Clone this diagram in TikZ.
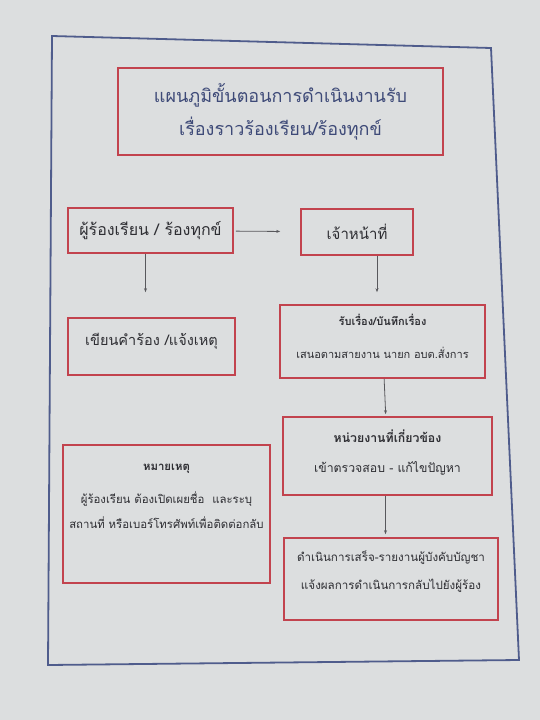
\documentclass[tikz,border=0pt]{standalone}
\usepackage{fontspec}
\newfontfamily\thaifont[Script=Thai]{Loma}
\usetikzlibrary{arrows.meta,positioning}
\definecolor{paper}{HTML}{DCDEDF}
\definecolor{frameblue}{HTML}{4F5C8C}
\definecolor{boxred}{HTML}{C2434E}
\definecolor{titleink}{HTML}{3E4A78}
\definecolor{ink}{HTML}{2E2E33}
\tikzset{
    stepbox/.style={draw=boxred,line width=1.6pt,text=ink,align=center,inner sep=2pt,font=\thaifont\fontsize{12}{24}\selectfont},
    titlebox/.style={stepbox,text=titleink,font=\thaifont\fontsize{18}{33}\selectfont},
    notebox/.style={stepbox,font=\thaifont\fontsize{11.4}{29}\selectfont},
    flow/.style={draw=ink!80,line width=0.8pt,-{Stealth[length=4pt,width=3pt]}},
}

\begin{document}
\begin{tikzpicture}[x=1pt,y=-1pt]
    \fill[paper] (0,0) rectangle (540,720);
    \useasboundingbox (0,0) rectangle (540,720);
    % photographed sheet border
    \coordinate (tl) at (52,36);
    \coordinate (tr) at (491,48);
    \coordinate (br) at (519,660);
    \coordinate (bl) at (48,665);
    \draw[frameblue,line width=1.8pt] (tl) -- (tr) -- (br) -- (bl) -- cycle;

    \node[titlebox,minimum width=325,minimum height=87] (title) at (280.5,111.5)
        {แผนภูมิขั้นตอนการดำเนินงานรับ\\เรื่องราวร้องเรียน/ร้องทุกข์};
    \node[stepbox,minimum width=165,minimum height=45,font=\thaifont\fontsize{16}{24}\selectfont] (plaintiff) at (150.5,230.5)
        {ผู้ร้องเรียน / ร้องทุกข์};
    \node[stepbox,minimum width=112,minimum height=46,font=\thaifont\fontsize{15}{24}\selectfont] (officer) at (357,232)
        {เจ้าหน้าที่};
    \node[stepbox,minimum width=167,minimum height=57,text depth=14pt,font=\thaifont\fontsize{14.5}{24}\selectfont] (petition) at (151.5,346.5)
        {เขียนคำร้อง /แจ้งเหตุ};
    \node[stepbox,minimum width=205,minimum height=73,text depth=10pt,font=\thaifont\fontsize{11}{33}\selectfont] (record) at (382.5,341.5)
        {\textbf{รับเรื่อง/บันทึกเรื่อง}\\เสนอตามสายงาน นายก อบต.สั่งการ};
    \node[stepbox,minimum width=209,minimum height=78,text depth=10pt,font=\thaifont\fontsize{12.3}{30}\selectfont] (unit) at (387.5,456)
        {\textbf{หน่วยงานที่เกี่ยวข้อง}\\เข้าตรวจสอบ - แก้ไขปัญหา};
    \node[stepbox,minimum width=214,minimum height=82,text depth=18pt,font=\thaifont\fontsize{11.6}{28}\selectfont] (report) at (391,579)
        {ดำเนินการเสร็จ-รายงานผู้บังคับบัญชา\\แจ้งผลการดำเนินการกลับไปยังผู้ร้อง};
    \node[notebox,minimum width=207,minimum height=138,text depth=36pt] (note) at (166.5,514)
        {\textbf{หมายเหตุ}\\[4pt]ผู้ร้องเรียน ต้องเปิดเผยชื่อ\ \ และระบุ\\[-4pt]สถานที่ หรือเบอร์โทรศัพท์เพื่อติดต่อกลับ};

    \draw[flow,shorten <=2pt,shorten >=20pt] (plaintiff) -- (officer);
    \draw[flow,shorten >=25pt] ([xshift=-5]plaintiff.south) -- ([xshift=-5]plaintiff.south |- petition.north);
    \draw[flow,shorten >=12pt] ([xshift=20]officer.south) -- ([xshift=20]officer.south |- record.north);
    \draw[flow,shorten >=2pt] (record) -- (unit);
    \draw[flow,shorten >=3pt] ([xshift=-2]unit.south) -- ([xshift=-2]unit.south |- report.north);
\end{tikzpicture}
\end{document}
